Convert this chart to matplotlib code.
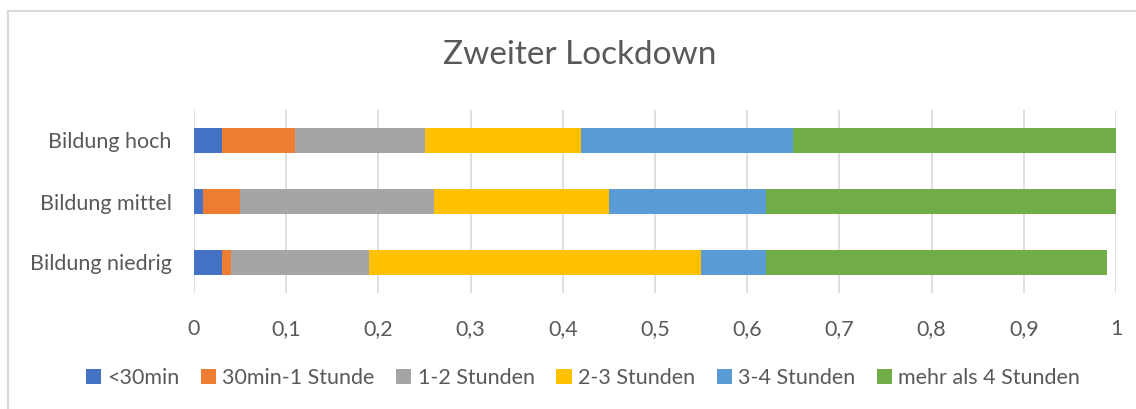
import matplotlib.pyplot as plt
import matplotlib.lines as mlines
import numpy as np

plt.rcParams['font.family'] = ['Lato', 'DejaVu Sans']

groups = ['Bildung niedrig', 'Bildung mittel', 'Bildung hoch']
series = ['<30min', '30min-1 Stunde', '1-2 Stunden', '2-3 Stunden', '3-4 Stunden', 'mehr als 4 Stunden']
colors = ['#4472C4', '#ED7D31', '#A5A5A5', '#FFC000', '#5B9BD5', '#70AD47']

# shares per group (niedrig, mittel, hoch)
lt30 = [0.03, 0.01, 0.03]
m30_1h = [0.01, 0.04, 0.08]
h1_2 = [0.15, 0.21, 0.14]
h2_3 = [0.36, 0.19, 0.17]
h3_4 = [0.07, 0.17, 0.23]
gt4 = [0.37, 0.38, 0.35]
values = [lt30, m30_1h, h1_2, h2_3, h3_4, gt4]

W, H = 1136, 409
fig = plt.figure(figsize=(W / 100, H / 100), dpi=100)
ax = fig.add_axes([194 / W, 1 - 293 / H, (1116 - 194) / W, (293 - 110) / H])

y = np.arange(len(groups))
left = np.zeros(len(groups))
for name, vals, c in zip(series, values, colors):
    ax.barh(y, vals, left=left, height=0.4, color=c, label=name, zorder=3)
    left += np.array(vals)

ax.set_xlim(0, 1)
ax.set_ylim(-0.5, 2.5)
ax.set_xticks(np.arange(0, 1.01, 0.1))
ax.set_xticklabels(['0'] + [f'{v:.1f}'.replace('.', ',') for v in np.arange(0.1, 0.95, 0.1)] + ['1'])
ax.set_yticks(y)
ax.set_yticklabels(groups)
ax.grid(axis='x', color='#D9D9D9', linewidth=1.2, zorder=0)
for s in ax.spines.values():
    s.set_visible(False)
ax.tick_params(length=0, labelsize=15.5, labelcolor='#595959')
ax.tick_params(axis='x', pad=19)
ax.tick_params(axis='y', pad=16)

fig.text(580 / W, 1 - 55 / H, 'Zweiter Lockdown', ha='center', va='center', fontsize=24, color='#595959')

handles, labels = ax.get_legend_handles_labels()
fig.legend(handles, labels, loc='center', bbox_to_anchor=(583 / W, 1 - 378 / H), ncol=6, frameon=False,
           fontsize=15.5, labelcolor='#595959', handlelength=0.7, handleheight=0.7, handletextpad=0.3,
           columnspacing=1.0)

# chart frame (only left and top edges visible)
fig.add_artist(mlines.Line2D([7.5 / W, 7.5 / W], [0, 1 - 11 / H], transform=fig.transFigure,
                             color='#D9D9D9', linewidth=1.5))
fig.add_artist(mlines.Line2D([7.5 / W, 1], [1 - 11 / H, 1 - 11 / H], transform=fig.transFigure,
                             color='#D9D9D9', linewidth=1.5))

fig.savefig('out.png', dpi=100)
